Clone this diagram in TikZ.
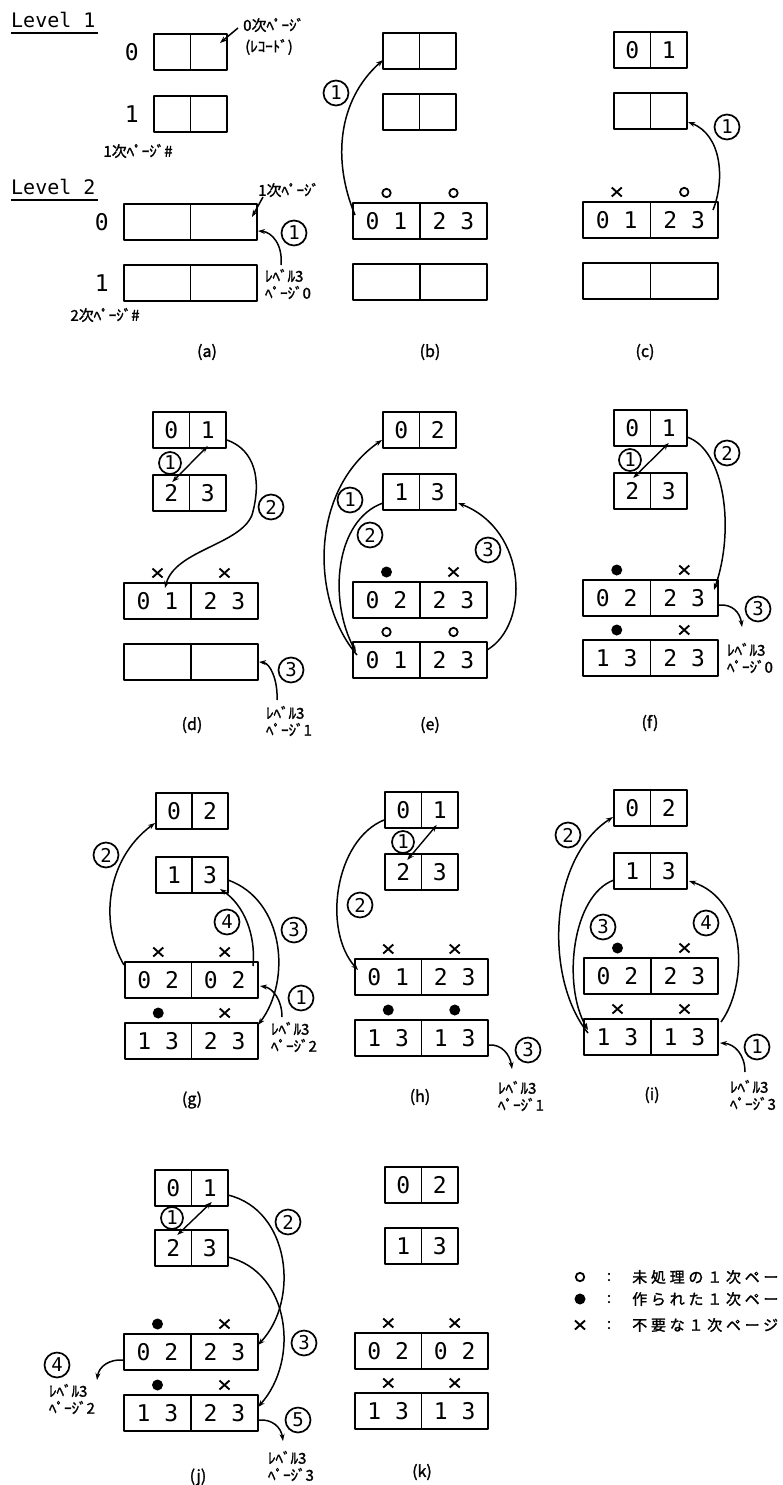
\documentclass[tikz,border=0pt]{standalone}
\usepackage{fontspec}
\newfontfamily\cellfont{DejaVu Sans Mono}
\newfontfamily\jpfont[FakeBold=1.6]{Noto Sans CJK JP}
\usepackage{tikz}
\usetikzlibrary{arrows.meta}
\usetikzlibrary{positioning}

% two cells of one page, top left at (#2,#3)
\newcommand\pagepair[6]{%
  \node[cell,minimum width=#4pt,anchor=north west] (#1l) at (#2,#3) {#5};
  \node[cell,minimum width=#4pt,anchor=north west] (#1r) at (#1l.north east) {#6};}
% state marks above a cell
\newcommand\mko[1]{\pic at ([shift={(0,-10)}]#1.north) {pgopen};}
\newcommand\mkd[1]{\pic at ([shift={(0,-10)}]#1.north) {pgmade};}
\newcommand\mkx[1]{\pic at ([shift={(0,-10)}]#1.north) {pgdrop};}

\begin{document}
\begin{tikzpicture}[x=1pt,y=-1pt,>={Stealth[length=7pt,width=5pt]},line join=round,
  cell/.style={draw,line width=1.8pt,minimum height=36pt,inner sep=0pt,outer sep=0pt,font=\cellfont\fontsize{23}{23}\selectfont},
  rowno/.style={inner sep=0pt,font=\cellfont\fontsize{23}{23}\selectfont},
  stepno/.style={circle,draw,line width=1.7pt,minimum size=25pt,inner sep=0pt,font=\cellfont\fontsize{19}{19}\selectfont},
  lvl3/.style={align=left,inner sep=0pt,font=\jpfont\fontsize{15}{17}\selectfont},
  pgnote/.style={inner sep=0pt,font=\jpfont\fontsize{15}{16}\selectfont},
  subcap/.style={inner sep=0pt,font=\jpfont\fontsize{16}{16}\selectfont},
  legtxt/.style={inner sep=0pt,font=\jpfont\fontsize{15}{15}\selectfont\addfontfeature{LetterSpace=25}},
  flow/.style={->,line width=1.5pt},
  swap/.style={<->,line width=1.4pt},
  pics/pgopen/.style={code={\draw[line width=1.8pt] (0,0) circle (4.2pt);}},
  pics/pgmade/.style={code={\fill (0,0) circle (5.5pt);}},
  pics/pgdrop/.style={code={\draw[line width=1.9pt] (-5,-4.5) -- (5,4.5) (-5,4.5) -- (5,-4.5);}}]
\useasboundingbox (0,0) rectangle (782,1485);
% --- (a) layout
\node[anchor=west,inner sep=0pt,font=\cellfont\fontsize{20}{20}\selectfont] (lv1) at (11,20) {Level 1};
\draw[line width=1.6pt] ([shift={(0,5)}]lv1.south west) -- ([shift={(2,5)}]lv1.south east);
\node[anchor=west,inner sep=0pt,font=\cellfont\fontsize{20}{20}\selectfont] (lv2) at (11,187) {Level 2};
\draw[line width=1.6pt] ([shift={(0,5)}]lv2.south west) -- ([shift={(2,5)}]lv2.south east);
\pagepair{a10}{154}{34}{36.5}{}{}
\pagepair{a11}{154}{96}{36.5}{}{}
\pagepair{a20}{124}{204}{66.5}{}{}
\pagepair{a21}{124}{265}{66.5}{}{}
\node[rowno,left=15pt of a10l] (ar10) {0};
\node[rowno,left=15pt of a11l] (ar11) {1};
\node[rowno,left=15pt of a20l] (ar20) {0};
\node[rowno,left=15pt of a21l] (ar21) {1};
\node[pgnote,anchor=west] (a0pg) at (243,25) {0次ﾍﾟｰｼﾞ};
\node[pgnote,anchor=west] (a0rec) at (245,47) {(ﾚｺｰﾄﾞ)};
\draw[flow] ([shift={(-5,3)}]a0pg.west) -- ([shift={(-7,9)}]a10r.north east);
\node[pgnote] (a1no) at (138,151) {1次ﾍﾟｰｼﾞ\#};
\node[pgnote,anchor=west] (a1pg) at (258,190) {1次ﾍﾟｰｼﾞ};
\draw[flow] ([shift={(5,7)}]a1pg.west) -- ([shift={(-5,13)}]a20r.north east);
\node[pgnote] (a2no) at (105,315) {2次ﾍﾟｰｼﾞ\#};
\draw[flow] ([shift={(24,25)}]a20r.south east) .. controls +(2,-20) and +(14,1) .. ([shift={(1,-9)}]a20r.south east);
\node[stepno] (as1) at (294,233) {1};
\node[lvl3] (al3) at (288,284) {ﾚﾍﾞﾙ3\\ﾍﾟｰｼﾞ0};
% --- (b)
\pagepair{b10}{383}{33}{36.5}{}{}
\pagepair{b11}{383}{94}{36.5}{}{}
\pagepair{b20}{353}{203}{67}{0 1}{2 3}
\pagepair{b21}{353}{264}{67}{}{}
\mko{b20l}\mko{b20r}
\draw[flow] ([shift={(2,12)}]b20l.north west) .. controls +(-23,-55) and +(-45,40) .. ([shift={(0,-9)}]b10l.south west);
\node[stepno] (bs1) at (336,93) {1};
% --- (c)
\pagepair{c10}{614}{32}{36.5}{0}{1}
\pagepair{c11}{614}{93}{36.5}{}{}
\pagepair{c20}{583}{202}{67.5}{0 1}{2 3}
\pagepair{c21}{583}{263}{67.5}{}{}
\mkx{c20l}\mko{c20r}
\draw[flow] ([shift={(-5,8)}]c20r.north east) .. controls +(12,-30) and +(34,13) .. ([shift={(1,-7)}]c11r.south east);
\node[stepno] (cs1) at (727,127) {1};
% --- (d)
\pagepair{d10}{153}{412}{36.5}{0}{1}
\pagepair{d11}{153}{475}{36.5}{2}{3}
\pagepair{d20}{124}{583}{67}{0 1}{2 3}
\pagepair{d21}{124}{644}{67}{}{}
\mkx{d20l}\mkx{d20r}
\node[stepno,minimum size=22pt] (ds1) at (170,463) {1};
\draw[swap] ([shift={(1,7)}]d11l.north) -- ([shift={(0,-2)}]d10r.south);
\draw[flow] ([shift={(1,10)}]d10r.east) .. controls +(28,10) and +(10,-35) .. ([shift={(-6,-68)}]d20r.north east) .. controls +(-12,30) and +(10,-38) .. ([shift={(7.5,5)}]d20l.north);
\node[stepno] (ds2) at (271,507) {2};
\draw[flow] ([shift={(19,20)}]d21r.south east) .. controls +(1,-20) and +(11,1) .. ([shift={(1,0)}]d21r.east);
\node[stepno] (ds3) at (291,670) {3};
\node[lvl3] (dl3) at (289,721) {ﾚﾍﾞﾙ3\\ﾍﾟｰｼﾞ1};
% --- (e)
\pagepair{e10}{383}{412}{36.5}{0}{2}
\pagepair{e11}{383}{474}{36.5}{1}{3}
\pagepair{e20}{353}{582}{67}{0 2}{2 3}
\pagepair{e21}{353}{642}{67}{0 1}{2 3}
\mkd{e20l}\mkx{e20r}\mko{e21l}\mko{e21r}
\draw[flow] ([shift={(4,13)}]e21l.north west) .. controls +(-47,-55) and +(-72,50) .. ([shift={(-1,10)}]e10l.west);
\draw[flow] ([shift={(0,11)}]e11l.west) .. controls +(-48,17) and +(-28,-52) .. ([shift={(3,10)}]e21l.north west);
\draw[flow] ([shift={(0,8)}]e21r.north east) .. controls +(43,-25) and +(70,27) .. ([shift={(2,11)}]e11r.east);
\node[stepno] (es1) at (350,500) {1};
\node[stepno] (es2) at (370,535) {2};
\node[stepno] (es3) at (488,550) {3};
% --- (f)
\pagepair{f10}{614}{410}{36.5}{0}{1}
\pagepair{f11}{614}{473}{36.5}{2}{3}
\pagepair{f20}{583}{580}{67.5}{0 2}{2 3}
\pagepair{f21}{583}{640}{67.5}{1 3}{2 3}
\mkd{f20l}\mkx{f20r}\mkd{f21l}\mkx{f21r}
\node[stepno,minimum size=22pt] (fs1) at (630,460) {1};
\draw[swap] ([shift={(1,5)}]f11l.north) -- ([shift={(0,-3)}]f10r.south);
\draw[flow] ([shift={(0,9)}]f10r.east) .. controls +(38,13) and +(21,-60) .. ([shift={(-4,10)}]f20r.north east);
\node[stepno] (fs2) at (727,453) {2};
\draw[flow] ([shift={(1,-11)}]f20r.south east) .. controls +(13,-1) and +(-2,-15) .. ([shift={(24,11)}]f20r.south east);
\node[stepno] (fs3) at (758,609) {3};
\node[lvl3] (fl3) at (750,658) {ﾚﾍﾞﾙ3\\ﾍﾟｰｼﾞ0};
% --- (g)
\pagepair{g10}{156}{793}{36}{0}{2}
\pagepair{g11}{156}{857}{36}{1}{3}
\pagepair{g20}{125}{962}{66.5}{0 2}{0 2}
\pagepair{g21}{125}{1023}{66.5}{1 3}{2 3}
\mkx{g20l}\mkx{g20r}\mkd{g21l}\mkx{g21r}
\draw[flow] ([shift={(-1,3)}]g20l.north west) .. controls +(-24,-40) and +(-50,37) .. ([shift={(-1,12)}]g10l.west);
\draw[flow] ([shift={(-5,4)}]g20r.north east) .. controls +(3,-31) and +(24,16) .. ([shift={(10,-4)}]g11r.south);
\draw[flow] ([shift={(0,5)}]g11r.east) .. controls +(56,20) and +(34,-45) .. ([shift={(0,2)}]g21r.north east);
\draw[flow] ([shift={(24,-6)}]g21r.north east) .. controls +(0,-17) and +(13,2) .. ([shift={(2,6)}]g20r.east);
\node[stepno] (gs2) at (106,855) {2};
\node[stepno] (gs4) at (227,922) {4};
\node[stepno] (gs3) at (294,930) {3};
\node[stepno] (gs1) at (301,998) {1};
\node[lvl3] (gl3) at (294,1037) {ﾚﾍﾞﾙ3\\ﾍﾟｰｼﾞ2};
% --- (h)
\pagepair{h10}{385}{792}{36.5}{0}{1}
\pagepair{h11}{385}{854}{36.5}{2}{3}
\pagepair{h20}{355}{959}{66.5}{0 1}{2 3}
\pagepair{h21}{355}{1020}{66.5}{1 3}{1 3}
\mkx{h20l}\mkx{h20r}\mkd{h21l}\mkd{h21r}
\node[stepno,minimum size=22pt] (hs1) at (403,842) {1};
\draw[swap] ([shift={(4,6)}]h11l.north) -- ([shift={(-3,-3)}]h10r.south);
\draw[flow] ([shift={(-1,10)}]h10l.west) .. controls +(-49,20) and +(-36,-40) .. ([shift={(3,11)}]h20l.north west);
\node[stepno] (hs2) at (360,905) {2};
\draw[flow] ([shift={(1,7)}]h21r.east) .. controls +(13,-1) and +(-2,-14) .. ([shift={(24,13)}]h21r.south east);
\node[stepno] (hs3) at (528,1050) {3};
\node[lvl3] (hl3) at (521,1096) {ﾚﾍﾞﾙ3\\ﾍﾟｰｼﾞ1};
% --- (i)
\pagepair{i10}{614}{790}{36.5}{0}{2}
\pagepair{i11}{614}{853}{36.5}{1}{3}
\pagepair{i20}{584}{958}{67}{0 2}{2 3}
\pagepair{i21}{584}{1019}{67}{1 3}{1 3}
\mkd{i20l}\mkx{i20r}\mkx{i21l}\mkx{i21r}
\draw[flow] ([shift={(4,14)}]i21l.north west) .. controls +(-43,-53) and +(-66,43) .. ([shift={(-1,9)}]i10l.west);
\draw[flow] ([shift={(0,9)}]i11l.west) .. controls +(-42,15) and +(-26,-45) .. ([shift={(4,11)}]i21l.north west);
\draw[flow] ([shift={(3,3)}]i21r.north east) .. controls +(27,-37) and +(59,19) .. ([shift={(2,10)}]i11r.east);
\draw[flow] ([shift={(27,17)}]i21r.south east) .. controls +(0,-17) and +(15,1) .. ([shift={(2,6)}]i21r.east);
\node[stepno] (is2) at (568,835) {2};
\node[stepno] (is3) at (603,927) {3};
\node[stepno] (is4) at (706,923) {4};
\node[stepno] (is1) at (757,1047) {1};
\node[lvl3] (il3) at (753,1095) {ﾚﾍﾞﾙ3\\ﾍﾟｰｼﾞ3};
% --- (j)
\pagepair{j10}{155}{1170}{36.5}{0}{1}
\pagepair{j11}{155}{1230}{36.5}{2}{3}
\pagepair{j20}{124}{1334}{67}{0 2}{2 3}
\pagepair{j21}{124}{1395}{67}{1 3}{2 3}
\mkd{j20l}\mkx{j20r}\mkd{j21l}\mkx{j21r}
\node[stepno,minimum size=22pt] (js1) at (172,1218) {1};
\draw[swap] ([shift={(4,5)}]j11l.north) -- ([shift={(2,-4)}]j10r.south);
\draw[flow] ([shift={(0,7)}]j10r.east) .. controls +(62,15) and +(42,-45) .. ([shift={(0,11)}]j20r.north east);
\draw[flow] ([shift={(0,9)}]j11r.east) .. controls +(62,15) and +(42,-47) .. ([shift={(0,12)}]j21r.north east);
\draw[flow] ([shift={(1,7)}]j21r.east) .. controls +(13,-1) and +(-2,-14) .. ([shift={(25,10)}]j21r.south east);
\draw[flow] ([shift={(-1,8)}]j20l.west) .. controls +(-13,-1) and +(2,-14) .. ([shift={(-27,10)}]j20l.south west);
\node[stepno] (js2) at (288,1222) {2};
\node[stepno] (js3) at (304,1343) {3};
\node[stepno] (js5) at (298,1420) {5};
\node[stepno] (js4) at (57,1365) {4};
\node[lvl3] (jl3) at (291,1466) {ﾚﾍﾞﾙ3\\ﾍﾟｰｼﾞ3};
\node[lvl3] (jl2) at (72,1399) {ﾚﾍﾞﾙ3\\ﾍﾟｰｼﾞ2};
% --- (k)
\pagepair{k10}{385}{1167}{36.5}{0}{2}
\pagepair{k11}{385}{1228}{36.5}{1}{3}
\pagepair{k20}{355}{1333}{66.5}{0 2}{0 2}
\pagepair{k21}{355}{1393}{66.5}{1 3}{1 3}
\mkx{k20l}\mkx{k20r}\mkx{k21l}\mkx{k21r}
% --- captions
\node[subcap] (capa) at (207,352) {(a)};
\node[subcap] (capb) at (430,352) {(b)};
\node[subcap] (capc) at (645,352) {(c)};
\node[subcap] (capd) at (192,725) {(d)};
\node[subcap] (cape) at (430,725) {(e)};
\node[subcap] (capf) at (650,723) {(f)};
\node[subcap] (capg) at (192,1100) {(g)};
\node[subcap] (caph) at (420,1097) {(h)};
\node[subcap] (capi) at (652,1095) {(i)};
\node[subcap] (capj) at (198,1477) {(j)};
\node[subcap] (capk) at (422,1472) {(k)};
% --- legend (cut at the right edge as printed)
\pic at (580,1277) {pgopen};
\pic at (580,1299) {pgmade};
\pic at (580,1325) {pgdrop};
\node[legtxt] (lc1) at (609,1277) {:};
\node[legtxt] (lc2) at (609,1299) {:};
\node[legtxt] (lc3) at (609,1325) {:};
\node[legtxt,anchor=west] (leg1) at (632,1277) {未処理の１次ペー};
\node[legtxt,anchor=west] (leg2) at (632,1299) {作られた１次ペー};
\node[legtxt,anchor=west] (leg3) at (632,1325) {不要な１次ページ};
\end{tikzpicture}
\end{document}
